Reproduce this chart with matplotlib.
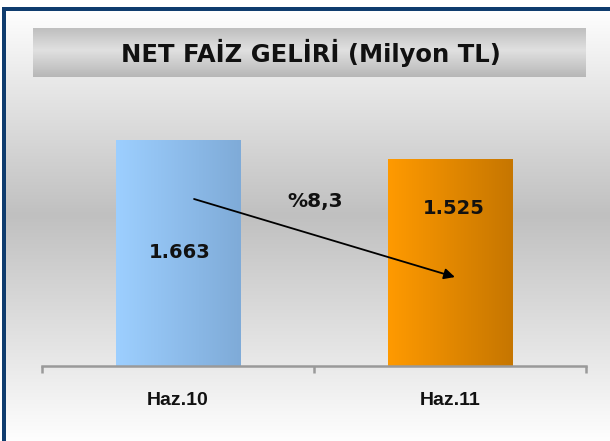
import numpy as np
import matplotlib
matplotlib.use("Agg")
import matplotlib.pyplot as plt
from matplotlib.colors import LinearSegmentedColormap

# ---- data ----
categories = ["Haz.10", "Haz.11"]
values = [1663, 1525]
value_labels = ["1.663", "1.525"]
change_label = "%8,3"
title = "NET FAİZ GELİRİ (Milyon TL)"

W, H = 610, 441
fig = plt.figure(figsize=(W / 100, H / 100), dpi=100)

# ---- background (pixel coordinate axes) ----
bg = fig.add_axes([0, 0, 1, 1])
bg.set_xlim(0, W)
bg.set_ylim(H, 0)
bg.axis("off")
bg.add_patch(plt.Rectangle((0, 0), W, H, color="white", zorder=0))

# vertical gradient white -> gray -> white
ys = np.arange(11, H + 1)
mid = 215
lv = np.where(ys < mid, 254 - (ys - 11) / (mid - 11) * 62, 192 + (ys - mid) / (H - mid) * 62)
grad = np.repeat((lv / 255.0)[:, None], 2, axis=1)
bg.imshow(np.dstack([grad, grad, grad]), extent=[6, W, H, 11], aspect="auto",
          interpolation="bilinear", zorder=1)

# dark blue frame (top and left)
bg.add_patch(plt.Rectangle((2, 7), W, 4, color="#0f3c6e", zorder=3, lw=0))
bg.add_patch(plt.Rectangle((2, 7), 4, H, color="#0f3c6e", zorder=3, lw=0))

# title box with vertical gradient
ty = np.linspace(0, 1, 60)
tl = 0.72 + 0.16 * (1 - np.abs(ty - 0.45) / 0.55)
tl = np.clip(tl, 0, 1)
tg = np.repeat(tl[:, None], 2, axis=1)
bg.imshow(np.dstack([tg, tg, tg]), extent=[33, 586, 77, 28], aspect="auto",
          interpolation="bilinear", zorder=2)
bg.text(311, 53, title, ha="center", va="center", fontsize=17.5,
        fontweight="bold", family="DejaVu Sans", color="#111111", zorder=4)

# ---- main chart axes ----
base_px, top_px = 366, 100
left_px, right_px = 42, 586
ax = fig.add_axes([left_px / W, (H - base_px) / H, (right_px - left_px) / W,
                   (base_px - top_px) / H])
ax.patch.set_alpha(0)
ymax = (base_px - top_px) / 0.136
x = np.arange(len(categories))
bars = ax.bar(x, values, width=0.456, color="none", edgecolor="none", zorder=2)

bar_cmaps = [
    LinearSegmentedColormap.from_list("b", ["#9dcfff", "#7fabd8"]),
    LinearSegmentedColormap.from_list("o", ["#ff9a00", "#c67600"]),
]
hg = np.linspace(0, 1, 256)[None, :]
for b, cm in zip(bars, bar_cmaps):
    x0, w, h = b.get_x(), b.get_width(), b.get_height()
    im = ax.imshow(hg, extent=[x0, x0 + w, 0, h], aspect="auto", cmap=cm,
                   interpolation="bilinear", zorder=2)
    im.set_clip_path(b)

ax.set_xlim(-0.5, len(categories) - 0.5)
ax.set_ylim(0, ymax)

for s in ["top", "right", "left"]:
    ax.spines[s].set_visible(False)
ax.spines["bottom"].set_color("#9a9a9a")
ax.spines["bottom"].set_linewidth(1.8)
ax.spines["bottom"].set_zorder(3)
ax.set_yticks([])
ax.set_xticks(np.arange(-0.5, len(categories), 1.0))
ax.set_xticklabels([])
ax.tick_params(axis="x", direction="out", length=5, width=1.8, color="#9a9a9a")

for i, c in enumerate(categories):
    ax.annotate(c, xy=(i, 0), xytext=(0, -25), textcoords="offset points",
                ha="center", va="center", fontsize=14, fontweight="bold",
                family="Liberation Sans", color="#111111")

# value labels
label_pos = [(0.007, 0.5), (1.015, 0.757)]
for (dx, fy), v, t in zip(label_pos, values, value_labels):
    ax.text(dx, v * fy, t, ha="center", va="center", fontsize=14,
            fontweight="bold", family="DejaVu Sans", color="#111111", zorder=5)

# change arrow and label
ax.annotate("", xy=(1.018, 654), xytext=(0.059, 1228),
            arrowprops=dict(arrowstyle="-|>", color="black", lw=1.3,
                            mutation_scale=16, shrinkA=0, shrinkB=0), zorder=6)
ax.text(0.504, 1213, change_label, ha="center", va="center", fontsize=14.5,
        fontweight="bold", family="DejaVu Sans", color="#111111", zorder=5)

fig.savefig("out.png", dpi=100)
